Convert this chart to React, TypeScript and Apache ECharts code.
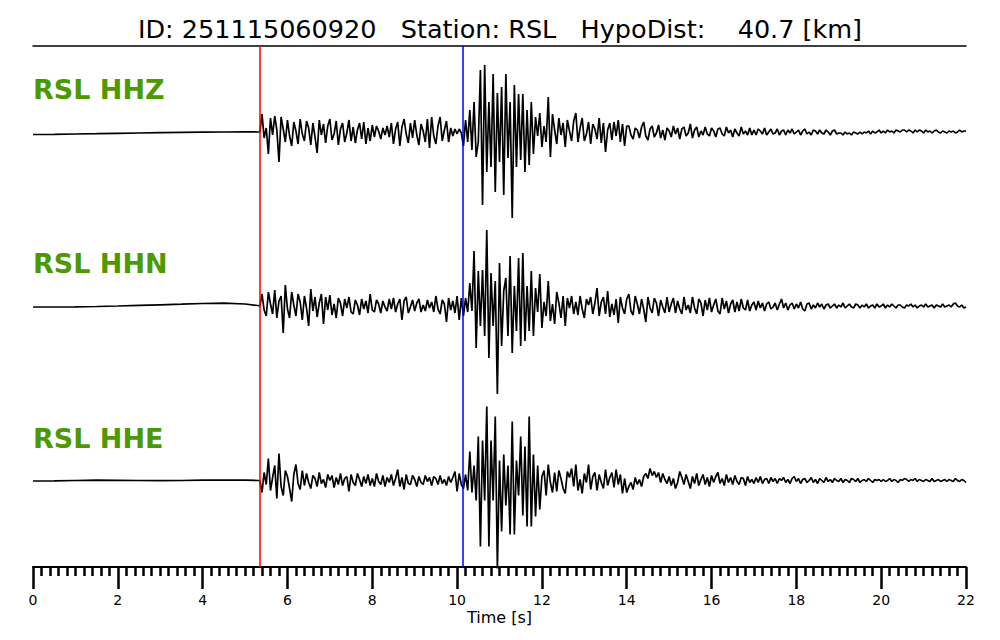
import React, { useEffect, useRef } from "react";
import * as echarts from "echarts";

// ---------- data ----------
const TITLE = "ID: 251115060920\u00a0\u00a0\u00a0Station: RSL\u00a0\u00a0\u00a0HypoDist:\u00a0\u00a0\u00a0\u00a040.7 [km]";
const CHANNELS = ["RSL HHZ", "RSL HHN", "RSL HHE"];
const X_TICKS = [0, 2, 4, 6, 8, 10, 12, 14, 16, 18, 20, 22];
const P_PICK = 5.35;
const S_PICK = 10.13;

// pre-event samples (s)
const PRE_T = [0, 0.5, 1, 1.5, 2, 2.5, 3, 3.5, 4, 4.5, 5, 5.3];
// event section: 5.35 s .. 14.00 s every 0.05 s ; tail: 14.05 s .. 22.0 s every 0.05 s
const EVENT_T0 = 5.35;
const EVENT_DT = 0.05;
const TAIL_T0 = 14.05;
const TAIL_DT = 0.05;

const HHZ_PRE = [-2.5, -2.3, -2.0, -1.7, -1.3, -1.0, -0.7, -0.4, -0.2, 0, 0.2, 0];
const HHZ_EVENT = [
  0, 18, -6, 4, -22, 14, -3, 16, 2, -30,
  15, 3, -10, 12, -4, -14, 10, 1, -12, 13,
  -2, -9, 11, 4, -13, 9, -5, -21, 12, -3,
  8,
  -11, 6, 13, -8, -2, 11, -13, 3, 9, -10,
  -1, 12, -9, 5, -11, 2, 9, -7, 10, -12,
  4, -9, 7,
  -5, 6, 1, -7, 4, -3, 6, -5,
  9, -12, 3, 10, -14, 5, 13, -2, -11, 9,
  -6, 12, -3, -13, 8, 1, -10, 13, -16, 15,
  -4, -12, 6, 15, -9, 2, 11, -10, 4,
  -4, 3, -2, 3, -1,
  -14, 12, -10, 22,
  -18, 30, -25, -10, 62, -73, 67, -40, 30, -35,
  58, -60, 39, -30, 45, -63, 58, -26, 30, -86,
  47, -35, 38, -28, 38, -40, 22, -33, 30, -22,
  15, -4, 19, -15, 6, -10, 35, -25, 18, 2,
  -12, 14, -3, 9, -15, 12, 1, -9, 11, 19,
  -10, 4, 14, -9, -2, 10, -12, 8, 3, -7,
  14, -11, 9, -20, 2, 9, -8, 10, -4, 12,
  -10, 8, -14, 6,
];
const HHZ_TAIL = [
  6, -3, -7, 4, 2, -6, 5, 10, -4, -8,
  3, 6, -5, -1, 7, -6, 2, -8, 4, 1,
  -5, 6, -2, 4, -7, 3, 5, -4, -1, 8,
  -6, 2, 5, -5, 1, -3, 5, -2, -4, 4,
  1, -5, 3, 4, -2, -4, 5, -1, 2, -5,
  3, -1, -4, 5, -2, 1, -3, 4, -3, 2,
  -3, 3, 1, -2, 4, -3, 0, 3, -2, -1,
  3, -3, 1, 2, -3, 2, -1, 3, -2, 0,
  2, -3, 1, 3, -2, 0, -3, 2, 1, -2,
  2, -1, -2, 2, 0, -3, 1, 2, -2, -1,
  -1, -3, 0, -2, -1, -3, 0, -1, -2, 0,
  -2, 0, -1, 1, -2, 1, -1, 0, 2, -1,
  1, -1, 2, 0, 1, -1, 2, 1, 0, 2,
  2, 0, 2, 1, -1, 2, 0, 2, 1, -1,
  2, 0, 1, -1, 1, 2, 0, -1, 1, 0,
  -1, 1, 0, 1, -1, 0, 2, 0, 1, 1,
];

const HHN_PRE = [-1, -1, -0.8, -0.5, 0, 0.6, 1.2, 1.8, 2.5, 2.8, 2, 0.5];
const HHN_EVENT = [
  0, 12, -4, -10, 14, 2, -8, 16, -12, 5,
  10, -27, 21, -3, -12, 14, 1, -10, 12, 4,
  -14, 10, -2, -20, 17, -5, 9, -11, 3, 12,
  -18,
  9, -4, 11, -9, 2, -12, 8, 3, -10, 7,
  -2, 9, -6, -8, 6, 1, -9, 7, -3, 5,
  -7, 12, -4, -6, 6, 2, -7, 5, -1, -5,
  7,
  -3, 8, -6, 2, 7, -14, 5, 9, -7, -1,
  6, -5, 3, 7, -6, 1, -5, 6, -2, 4,
  -6, 10, -3, -8, 6, 2, -16, 8, -4, 5,
  -7, 10, -14, 8,
  -10, 8, -6, 23,
  -5, 55, -42, 35, -20, 36, -30, 76, -52, 33,
  -20, 25, -88, 43, -40, 15, 28, -30, 50, -47,
  20, -25, 48, -40, 53, -35, 20, -25, 35, -30,
  18, -6, 32, -22, 4, -10, 25, -15, 2, -18,
  14, 3, -12, 10, -20, 8, -2, 10, -8, 4,
  -9, 10, -3, -12, 7, 1, 9, -8, 3, 18,
  -10, 4, 9, -8, 15, -11, 2, -9, 7, -17,
  9, -2, -8, 7,
];
const HHN_TAIL = [
  12, -5, -9, 10, 2, -8, 7, -3, -16, 9,
  -2, -7, 8, 3, -10, 6, -1, -7, 9, -6,
  2, 8, -7, 5, -3, -8, 9, -4, 1, -7,
  9, -2, -8, 7, 3, -10, 6, -4, 8, -6,
  1, 7, -5, -8, 8, -3, 5, -7, 2, 6,
  -6, 4, -5, 7, -2, -4, 6, -5, 1, 4,
  -4, 5, -2, 3, -5, 2, 4, -3, -1, 3,
  -4, 2, 7, -2, 3, -4, 1, 3, -3, 2,
  -2, 4, -3, -5, 2, 3, -3, 1, -2, 3,
  -1, 2, -3, 1, 2, -2, 0, 2, -2, 1,
  -1, 3, -2, 0, 2, -1, -2, 2, 1, -2,
  1, -1, 2, -2, 0, 1, -2, 2, -1, 0,
  2, -2, 1, -1, 2, 0, -2, 1, 1, -1,
  -2, 1, 0, 2, -1, 1, -2, 0, 1, -1,
  2, -1, 0, 1, -2, 1, 0, -1, 2, -1,
  0, 1, -1, 2, 3, 0, -1, 1, -2, -1,
];

const HHE_PRE = [-0.5, -0.3, 0, 0.3, 0.2, 0, -0.2, 0, 0.3, 0.5, 0.3, 0];
const HHE_EVENT = [
  0, -12, 8, -4, 22, -10, 3, 15, -18, 27,
  -6, -15, 10, 4, -8, -21, 6, 16, -3, -9,
  10,
  -5, 7, -2, -8, 5, 2, -6, 8, -3, 1,
  -7, 6, 0, 5, -7, 3, -4, 7, -5, 2,
  4, -11, 6, -2, -5, 7, 1, -6, 4, -3,
  6, -5, 2, -6, 7, -1, -4, 5, -6, 3,
  -2, 6, -5, 2, 11, -6, 3, -9, 6, -3,
  -4, 5, 1, -6, 4, -2, -4, 5, -1, 3,
  -5, 4, 2, -4, 5, -3, 1, -5, 4, -2,
  3, 9, -11, 7, -4,
  -8, 6, -10, 29,
  -12, 15, -20, 44, -66, 40, -20, 74, -66, 40,
  -20, 64, -88, 20, -51, 26, -25, 15, -54, 59,
  -54, 20, -15, 44, -35, 34, -46, 64, -46, 26,
  -36, 15, -29, 4, 10, -15, 16, -2, -12, 8,
  -11, 10, 2, -8, -13, 9, 3, 12, -6, 16,
  -10, 1, -13, 7, -2, 16, -9, 4, 8, -10,
  6, -2, -8, 11, -5, 3, 8, -7, 11, -4,
  6, -13, 2, -12,
];
const HHE_TAIL = [
  -6, -2, -9, 3, -4, 1, -6, 4, 7, 2,
  12, 5, 9, 3, 8, -2, 7, 1, -3, 4,
  -5, 2, -8, -2, 9, 3, -4, 6, -1, -8,
  4, -3, 7, -5, 1, 6, -4, 3, -6, 5,
  -2, 4, 8, -3, 2, -5, 6, -2, 3, -4,
  5, -1, -4, 3, 2, -5, 4, -2, 1, -3,
  3, -2, 4, -3, 1, 2, -3, 3, -1, 2,
  -3, 2, 0, 3, -2, 1, -3, 2, 4, -1,
  2, -3, 1, 2, -2, 0, 3, -2, 1, -3,
  2, 0, -2, 3, -1, 1, -2, 2, 0, -1,
  2, -2, 1, 0, -2, 2, 1, -1, 2, -2,
  0, 1, -1, 2, 0, -2, 1, 0, 1, -1,
  1, -1, 0, 2, -1, 1, 0, -2, 1, 0,
  2, 1, -1, 1, 0, 2, -1, 1, 0, -1,
  1, 0, -1, 2, -1, 0, 1, -1, 0, 1,
  -1, 1, 0, -1, 2, 0, -1, 1, 0, -2,
];

const TRACES = [
  { pre: HHZ_PRE, ev: HHZ_EVENT, tail: HHZ_TAIL },
  { pre: HHN_PRE, ev: HHN_EVENT, tail: HHN_TAIL },
  { pre: HHE_PRE, ev: HHE_EVENT, tail: HHE_TAIL },
];

function buildTrace(pre: number[], ev: number[], tail: number[]): [number, number][] {
  const pts: [number, number][] = [];
  PRE_T.forEach((t, i) => pts.push([t, pre[i]]));
  ev.forEach((v, k) => pts.push([+(EVENT_T0 + k * EVENT_DT).toFixed(3), v]));
  tail.forEach((v, j) => pts.push([+(TAIL_T0 + j * TAIL_DT).toFixed(3), v]));
  return pts;
}

// ---------- layout ----------
const LEFT = 33;
const RIGHT = 34;
const GRIDS = [
  { top: 46, height: 172 },
  { top: 218, height: 176 },
  { top: 394, height: 173 },
];
const FONT = "DejaVu Sans";

export default function App() {
  const ref = useRef<HTMLDivElement>(null);

  useEffect(() => {
    if (!ref.current) return;
    const chart = echarts.init(ref.current, undefined, { renderer: "svg" });

    const xAxes = GRIDS.map((_, i) => {
      const base: any = {
        type: "value",
        gridIndex: i,
        min: 0,
        max: 22,
        interval: 2,
        splitLine: { show: false },
      };
      if (i === 0) {
        return {
          ...base,
          position: "top",
          axisLine: { show: true, onZero: false, lineStyle: { color: "#000", width: 1.5 } },
          axisTick: { show: false },
          axisLabel: { show: false },
        };
      }
      if (i === 1) return { ...base, show: false };
      return {
        ...base,
        position: "bottom",
        name: "Time [s]",
        nameLocation: "middle",
        nameGap: 42,
        nameTextStyle: { fontFamily: FONT, fontSize: 16, color: "#000" },
        axisLine: { show: true, onZero: false, lineStyle: { color: "#000", width: 2 } },
        axisTick: { show: true, length: 22, lineStyle: { color: "#000", width: 2.5 } },
        minorTick: { show: true, splitNumber: 10, length: 9, lineStyle: { color: "#000", width: 2.5 } },
        axisLabel: {
          show: true,
          margin: 26,
          fontFamily: FONT,
          fontSize: 14,
          color: "#000",
          formatter: (v: number) => (X_TICKS.includes(v) ? String(v) : ""),
        },
      };
    });

    const yAxes = GRIDS.map((g, i) => ({
      type: "value",
      gridIndex: i,
      min: -g.height / 2,
      max: g.height / 2,
      show: false,
    }));

    const series = TRACES.map((tr, i) => ({
      type: "line",
      name: CHANNELS[i],
      xAxisIndex: i,
      yAxisIndex: i,
      data: buildTrace(tr.pre, tr.ev, tr.tail),
      showSymbol: false,
      symbol: "none",
      clip: false,
      lineStyle: { color: "#000", width: 1.7 },
      z: 2,
      markLine: {
        silent: true,
        symbol: ["none", "none"],
        label: { show: false },
        z: 3,
        data: [
          { xAxis: P_PICK, lineStyle: { color: "#ff0000", width: 1.5, type: "solid" } },
          { xAxis: S_PICK, lineStyle: { color: "#0000ff", width: 1.5, type: "solid" } },
        ],
      },
    }));

    const labelCenters = GRIDS.map((g) => g.top + g.height / 2 - 41);

    chart.setOption({
      animation: false,
      backgroundColor: "#ffffff",
      title: {
        text: TITLE,
        left: "center",
        top: 11,
        textStyle: { fontFamily: FONT, fontSize: 25.5, fontWeight: "normal", color: "#000" },
      },
      grid: GRIDS.map((g) => ({ left: LEFT, right: RIGHT, top: g.top, height: g.height })),
      xAxis: xAxes,
      yAxis: yAxes,
      series,
      graphic: CHANNELS.map((c, i) => ({
        type: "text",
        left: LEFT,
        top: labelCenters[i] - 15,
        style: {
          text: c,
          fill: "#4c9a00",
          font: `bold 27px "${FONT}"`,
        },
      })),
    });

    return () => chart.dispose();
  }, []);

  return (
    <div
      ref={ref}
      style={{ position: "absolute", left: 0, top: 0, width: 1000, height: 640 }}
    />
  );
}
